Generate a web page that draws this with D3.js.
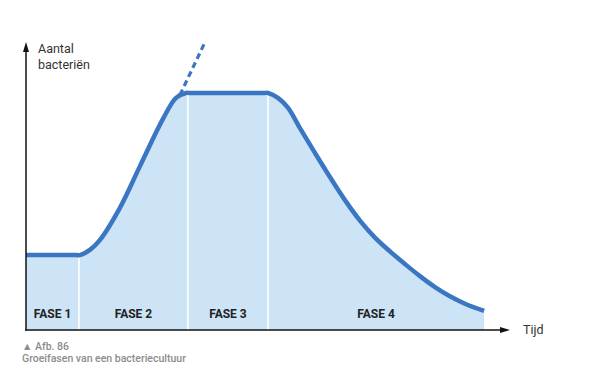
<!DOCTYPE html>
<html><head><meta charset="utf-8">
<script src="https://cdn.jsdelivr.net/npm/d3@7"></script>
<style>body{margin:0;background:#fff}svg{display:block}</style>
</head><body>
<svg id="c" width="589" height="383"></svg>
<script>
// Data (time in arbitrary units, count in % of axis height)
const times  = [0, 2.1, 2.23, 2.64, 3.06, 3.88, 4.71, 5.66, 6.2, 6.61, 6.75, 9.85, 10.0, 10.41, 10.83, 11.32, 11.94, 12.56, 13.18, 13.80, 14.42, 15.04, 15.66, 16.28, 16.90, 17.52, 18.14, 18.93];
const counts = [26, 26, 26, 27.8, 31.3, 42.4, 56.9, 73.3, 80.6, 82.3, 82.3, 82.3, 82.3, 80.6, 77.1, 70.1, 61.5, 53.1, 45.1, 38.0, 32.1, 27.3, 22.9, 18.7, 14.9, 11.7, 9.1, 6.6];
const phaseBounds = [0, 2.19, 6.69, 10.0, 18.93];
const phaseLabels = ["FASE 1", "FASE 2", "FASE 3", "FASE 4"];
const extrapT = [6.36, 7.4];
const extrapN = [81.6, 100];
const yTitle = ["Aantal", "bacteriën"];
const xTitle = "Tijd";
const caption = ["▲ Afb. 86", "Groeifasen van een bacteriecultuur"];

const svg = d3.select("#c");
const x = d3.scaleLinear().domain([0, 20]).range([26, 510]);
const y = d3.scaleLinear().domain([0, 100]).range([330, 42]);
const pts = times.map((t, i) => [t, counts[i]]);

const blue = "#3a76c2", fill = "#cde3f6";
const curve = d3.curveCatmullRom.alpha(0.5);

// area
svg.append("path").datum(pts)
  .attr("d", d3.area().x(d => x(d[0])).y0(y(0)).y1(d => y(d[1])).curve(curve))
  .attr("fill", fill);

// phase dividers
const lineGen = d3.line().x(d => x(d[0])).y(d => y(d[1])).curve(curve);
const interp = t => {
  for (let i = 1; i < times.length; i++) if (t <= times[i]) {
    const f = (t - times[i-1]) / (times[i] - times[i-1]);
    return counts[i-1] + f * (counts[i] - counts[i-1]);
  }
  return counts[counts.length-1];
};
phaseBounds.slice(1, -1).forEach(t => {
  svg.append("line").attr("x1", x(t)).attr("x2", x(t))
    .attr("y1", y(0)).attr("y2", y(interp(t)))
    .attr("stroke", "#fff").attr("stroke-width", 1.6);
});

// dashed extrapolation
svg.append("line")
  .attr("x1", x(extrapT[0])).attr("y1", y(extrapN[0]))
  .attr("x2", x(extrapT[1])).attr("y2", y(extrapN[1]))
  .attr("stroke", blue).attr("stroke-width", 3.2).attr("stroke-dasharray", "6,4");

// curve
svg.append("path").datum(pts).attr("d", lineGen)
  .attr("fill", "none").attr("stroke", blue).attr("stroke-width", 4.5);

// phase labels
phaseLabels.forEach((l, i) => {
  svg.append("text").attr("x", x((phaseBounds[i] + phaseBounds[i+1]) / 2)).attr("y", 318)
    .attr("text-anchor", "middle").attr("font-family", "Roboto, sans-serif")
    .attr("font-weight", "bold").attr("font-size", 12).attr("fill", "#222").text(l);
});

// axes
const ax = svg.append("g").attr("stroke", "#111").attr("stroke-width", 1.5);
ax.append("line").attr("x1", x(0)).attr("x2", x(0)).attr("y1", y(0) + 0.8).attr("y2", y(100) + 6);
ax.append("line").attr("x1", x(0) - 0.8).attr("x2", x(20) - 6).attr("y1", y(0)).attr("y2", y(0));
svg.append("path").attr("d", `M${x(0)},${y(100)} l-3,10 l6,0 z`).attr("fill", "#111");
svg.append("path").attr("d", `M${x(20)},${y(0)} l-10,-3 l0,6 z`).attr("fill", "#111");

yTitle.forEach((t, i) => {
  svg.append("text").attr("x", 38).attr("y", 53 + i * 15.5)
    .attr("font-family", "Roboto, sans-serif").attr("font-size", 12.5).attr("fill", "#333").text(t);
});
svg.append("text").attr("x", 523).attr("y", 334)
  .attr("font-family", "Roboto, sans-serif").attr("font-size", 12.5).attr("fill", "#333").text(xTitle);

caption.forEach((t, i) => {
  svg.append("text").attr("x", 22).attr("y", 350 + i * 12)
    .attr("font-family", "Roboto, sans-serif").attr("font-weight", 500).attr("font-size", 10.5)
    .attr("fill", "#8c8c8c").text(t);
});
</script>
</body></html>
